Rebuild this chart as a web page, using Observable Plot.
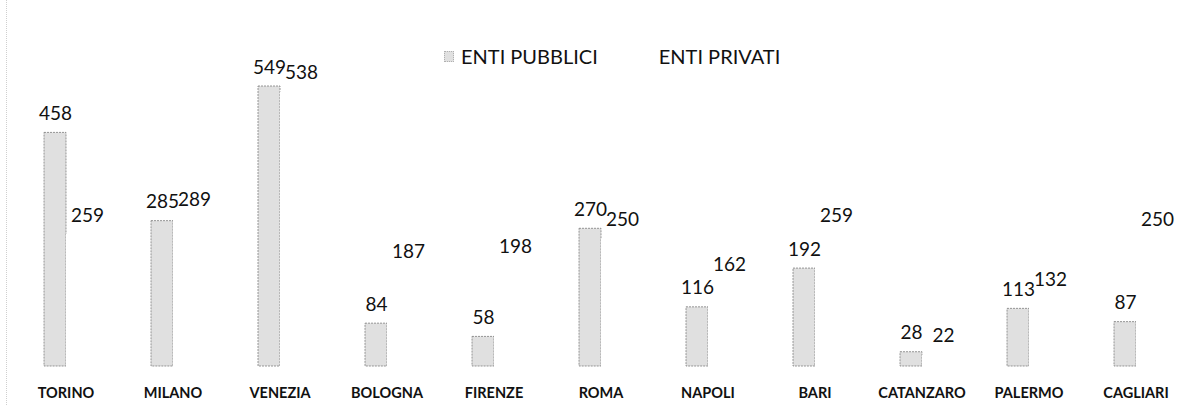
<!DOCTYPE html>
<html>
<head>
<meta charset="utf-8">
<script src="https://cdn.jsdelivr.net/npm/d3@7"></script>
<script src="https://cdn.jsdelivr.net/npm/@observablehq/plot@0.6"></script>
<style>
  html, body { margin: 0; padding: 0; background: #fff; }
  #wrap { position: relative; width: 1187px; height: 405px; overflow: hidden; font-family: Lato, "Open Sans", sans-serif; }
  #edge { position: absolute; left: 6px; top: 0; height: 405px; border-left: 1px dotted #cfcfcf; }
  #legend { position: absolute; top: 44px; left: 444px; display: flex; align-items: center; font-size: 20px; color: #111; }
  .item { display: flex; align-items: center; }
  .sw { width: 10px; height: 11px; margin-right: 7px; box-sizing: border-box; }
</style>
</head>
<body>
<div id="wrap"><div id="edge"></div><div id="chart"></div><div id="legend"></div></div>
<script>
const cities = ["TORINO","MILANO","VENEZIA","BOLOGNA","FIRENZE","ROMA","NAPOLI","BARI","CATANZARO","PALERMO","CAGLIARI"];
const series = ["ENTI PUBBLICI","ENTI PRIVATI"];
const pubblici = [458,285,549,84,58,270,116,192,28,113,87];
const privati = [259,289,538,187,198,250,162,259,22,132,250];

const data = [];
cities.forEach((c,i) => {
  data.push({city:c, series:series[0], value:pubblici[i]});
  data.push({city:c, series:series[1], value:privati[i]});
});
const pubData = data.filter(d => d.series === series[0]);
const privData = data.filter(d => d.series === series[1]);

const colors = {"ENTI PUBBLICI":"#e0e0e0","ENTI PRIVATI":"#ffffff"};

const chart = Plot.plot({
  width: 1187,
  height: 405,
  marginTop: 9,
  marginBottom: 39,
  marginLeft: 0,
  marginRight: 0,
  style: {fontFamily: "Lato, 'Open Sans', sans-serif", background: "transparent"},
  fx: {domain: cities, range: [11.4, 1190.6], padding: 0, label: null, axis: null},
  x: {domain: series, paddingInner: 0, paddingOuter: 1.33, axis: null},
  y: {domain: [0, 700], axis: null},
  marks: [
    Plot.barY(data, {
      fx: "city", x: "series", y: "value",
      fill: d => colors[d.series],
      stroke: d => d.series === series[0] ? "#7d7d7d" : "none",
      strokeWidth: 0.8, strokeDasharray: "2,1", insetLeft: 0, insetRight: 0
    }),
    Plot.text(pubData, {
      fx: "city", x: "series", y: "value", text: d => String(d.value),
      dy: -19, fontSize: 19, fill: "#111"
    }),
    Plot.text(privData, {
      fx: "city", x: "series", y: "value", text: d => String(d.value),
      dy: -19, dx: 10, fontSize: 19, fill: "#111"
    }),
    Plot.axisFx({anchor: "bottom", tickSize: 0, tickPadding: 21, fontSize: 14.5, fontWeight: "bold", fill: "#111", label: null})
  ]
});
document.getElementById("chart").appendChild(chart);

const legend = document.getElementById("legend");
series.forEach((s, i) => {
  const item = document.createElement("div");
  item.className = "item";
  if (i > 0) item.style.marginLeft = "44px";
  const sw = document.createElement("div");
  sw.className = "sw";
  sw.style.background = colors[s];
  if (i === 0) sw.style.border = "1px dotted #b0b0b0";
  const t = document.createElement("span");
  t.textContent = s;
  item.appendChild(sw);
  item.appendChild(t);
  legend.appendChild(item);
});
</script>
</body>
</html>
